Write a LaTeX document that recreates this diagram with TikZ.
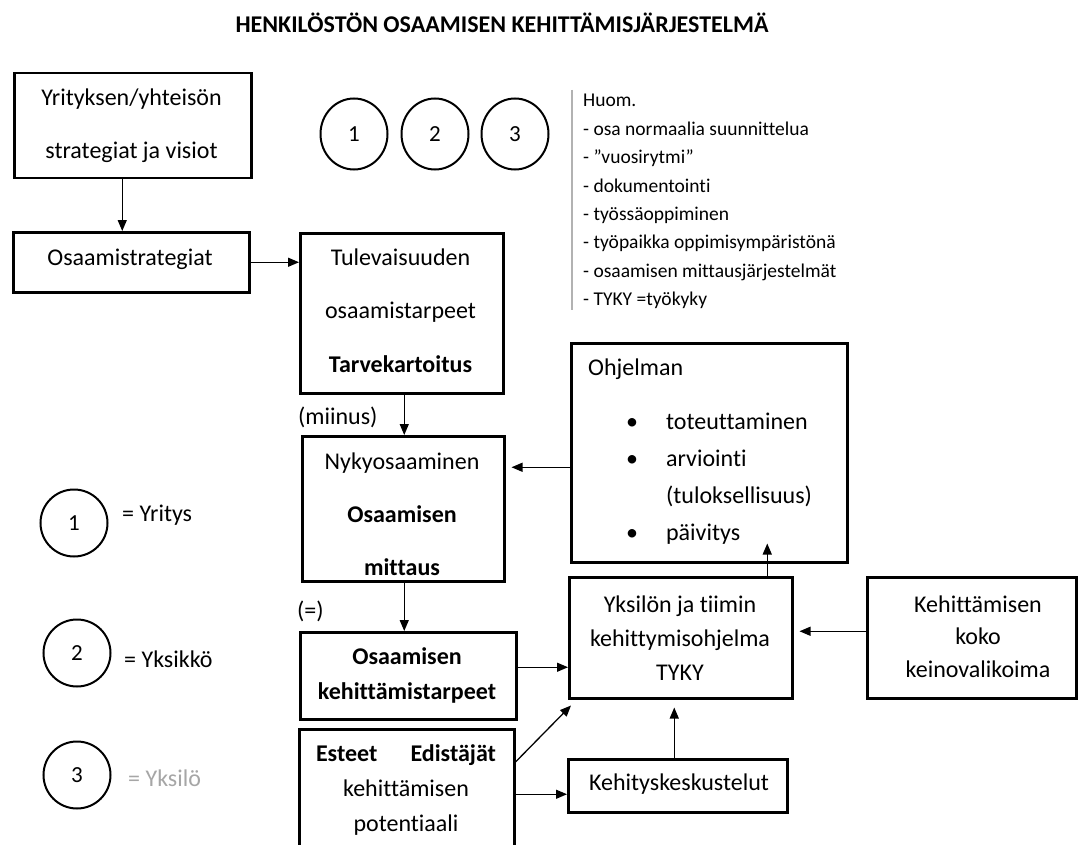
\documentclass[tikz,border=0pt]{standalone}
\usepackage{fontspec}
\setmainfont{Carlito}[Ligatures={NoCommon}]
\usetikzlibrary{arrows.meta,shapes.geometric}
\newcommand\mylines[1]{\begin{tabular}[t]{@{}c@{}}#1\end{tabular}}
\newcommand\fs[2]{\fontsize{#1}{#2}\selectfont}
\begin{document}
\begin{tikzpicture}[x=1pt,y=-1pt,
  box/.style={draw, line width=2.5pt, inner sep=0pt, anchor=north west},
  tx/.style={inner sep=0pt, anchor=base, font=\fs{24}{28}},
  arr/.style={line width=1.3pt, -{Triangle[length=11pt,width=9pt]}},
  ring/.style={draw, line width=2pt, circle, minimum size=67pt, inner sep=0pt, font=\fs{23}{28}},
  oval/.style={draw, line width=2pt, ellipse, minimum width=67pt, minimum height=71pt, inner sep=0pt, font=\fs{23}{28}},
]
\fill[white] (0,0) rectangle (1078,845);
\useasboundingbox (0,0) rectangle (1078,845);
\clip (0,0) rectangle (1078,845);

% title
\node[tx, font=\fs{24}{28}\bfseries] (title) at (502,33) {HENKILÖSTÖN OSAAMISEN KEHITTÄMISJÄRJESTELMÄ};

% boxes
\node[box, minimum width=237pt, minimum height=105pt] (strat) at (13,72) {};
\node[box, minimum width=236pt, minimum height=60pt] (ostrat) at (12,231) {};
\node[box, minimum width=203pt, minimum height=160pt] (tul) at (299,232) {};
\node[box, minimum width=202pt, minimum height=145pt] (nyky) at (301,435) {};
\node[box, minimum width=216pt, minimum height=87pt] (tarp) at (299,631) {};
\node[box, minimum width=215pt, minimum height=140pt] (este) at (298,728) {};
\node[box, minimum width=276pt, minimum height=219pt] (ohj) at (570,342) {};
\node[box, minimum width=223pt, minimum height=121pt] (yks) at (568,576) {};
\node[box, minimum width=209pt, minimum height=121pt] (keh) at (866,576) {};
\node[box, minimum width=219pt, minimum height=53pt] (kk) at (567,758) {};

% box texts
\node[tx, font=\fs{24}{53}] (stratT) at (131.5,106) {\mylines{Yrityksen/yhteisön\\strategiat ja visiot}};
\node[tx] (ostratT) at (130,265) {Osaamistrategiat};
\node[tx, font=\fs{24}{53.5}] (tulT) at (400.5,265) {\mylines{Tulevaisuuden\\osaamistarpeet\\\textbf{Tarvekartoitus}}};
\node[tx, font=\fs{24}{53}] (nykyT) at (402,469) {\mylines{Nykyosaaminen\\\textbf{Osaamisen}\\\textbf{mittaus}}};
\node[tx, font=\fs{24}{35}] (tarpT) at (407,664) {\mylines{\textbf{Osaamisen}\\\textbf{kehittämistarpeet}}};
\node[tx, font=\fs{24}{35}] (esteT) at (406,761) {\mylines{\makebox[180pt]{\textbf{Esteet}\hfill\textbf{Edistäjät}}\\kehittämisen\\potentiaali}};
\node[tx, font=\fs{24}{34}] (yksT) at (680,612) {\mylines{Yksilön ja tiimin\\kehittymisohjelma\\TYKY}};
\node[tx, font=\fs{24}{32.5}] (kehT) at (978,612) {\mylines{Kehittämisen\\koko\\keinovalikoima}};
\node[tx] (kkT) at (679,790) {Kehityskeskustelut};
\node[tx, anchor=base west] (ohjT) at (588,375) {Ohjelman};
\node[tx, anchor=base west, font=\fs{24}{37}] (ohjL) at (626,429) {\begin{tabular}[t]{@{}c@{\hspace{28pt}}l@{}}\textbullet & toteuttaminen\\ \textbullet & arviointi\\ & (tuloksellisuus)\\ \textbullet & päivitys\end{tabular}};

% notes
\draw[line width=1.4pt, color=gray!60] (572,90) -- (572,310);
\node[tx, anchor=base west, font=\fs{19.5}{28.4}] (huom) at (583,107) {\begin{tabular}[t]{@{}l@{}}Huom.\\- osa normaalia suunnittelua\\- ”vuosirytmi”\\- dokumentointi\\- työssäoppiminen\\- työpaikka oppimisympäristönä\\- osaamisen mittausjärjestelmät\\- TYKY =työkyky\end{tabular}};

% circles
\node[oval] (c1) at (354,134) {1};
\node[oval] (c2) at (435,134) {2};
\node[oval] (c3) at (515,134) {3};
\node[ring] (l1) at (74,523) {1};
\node[ring] (l2) at (77,653) {2};
\node[ring] (l3) at (77,775) {3};
\node[tx, anchor=base west] (l1T) at (122,521) {= Yritys};
\node[tx, anchor=base west] (l2T) at (124,667) {= Yksikkö};
\node[tx, anchor=base west, text=gray!70] (l3T) at (128,786) {= Yksilö};

% labels
\node[tx, anchor=base west] (miinus) at (298,424) {(miinus)};
\node[tx, anchor=base west] (eq) at (297,618) {(=)};

% connectors
\draw[arr] ([xshift=-10.5pt]strat.south) -- ([xshift=-9pt]ostrat.north);
\draw[arr] (ostrat.east) -- (ostrat.east -| tul.west);
\draw[arr] ([xshift=2.5pt]tul.south) -- ([xshift=1pt]nyky.north);
\draw[arr] ([xshift=1pt]nyky.south) -- ([xshift=-4pt]tarp.north);
\coordinate (nykyIn) at ([xshift=6pt,yshift=41.5pt]nyky.east);
\draw[arr] (ohj.west |- nykyIn) -- (nykyIn);
\coordinate (yksIn1) at ([yshift=8.5pt]tarp.east);
\draw[arr] (yksIn1) -- (yksIn1 -| yks.west);
\draw[arr] ([yshift=-34pt]este.north east) -- ([xshift=3pt,yshift=-6pt]yks.south west);
\coordinate (kkIn) at ([yshift=-8.5pt]kk.west);
\draw[arr] (kkIn -| este.east) -- (kkIn);
\coordinate (yksIn2) at ([xshift=-6.5pt,yshift=-8pt]yks.south);
\draw[arr] (yksIn2 |- kk.north) -- (yksIn2);
\coordinate (ohjIn) at ([xshift=58pt,yshift=20pt]ohj.south);
\draw[arr] (ohjIn |- yks.north) -- (ohjIn);
\coordinate (yksIn3) at ([xshift=6pt,yshift=6.5pt]yks.east);
\draw[arr] (yksIn3 -| keh.west) -- (yksIn3);
\end{tikzpicture}
\end{document}
